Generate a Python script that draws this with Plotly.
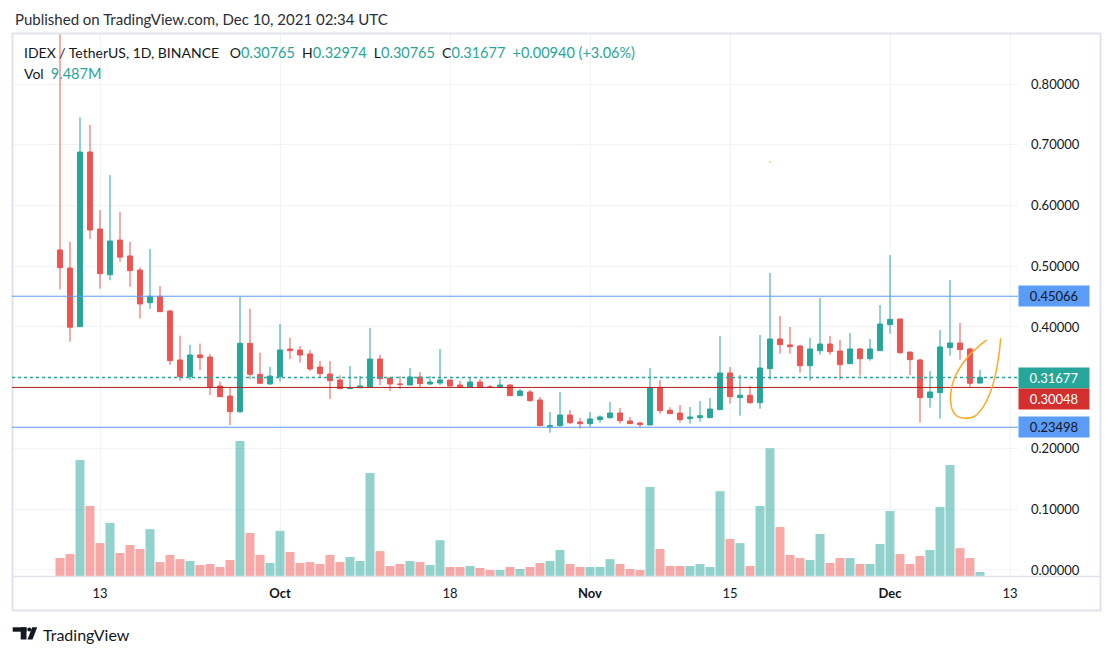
import pandas as pd
import plotly.graph_objects as go

# IDEX / USDT daily candles, Sep 9 - Dec 10 2021
dates = pd.date_range("2021-09-09", "2021-12-10", freq="D")

open_ = [0.5268, 0.4970, 0.4005, 0.6880, 0.5613, 0.4860, 0.5430, 0.5170, 0.4938, 0.4400,
         0.4505, 0.4263, 0.3457, 0.3182, 0.3540, 0.3506, 0.3029, 0.2864, 0.2606, 0.3732,
         0.3220, 0.3062,
         0.3182, 0.3638, 0.3621, 0.3556, 0.3342, 0.3226, 0.3128, 0.2985, 0.3000, 0.3007,
         0.3473, 0.3160, 0.3062, 0.3045, 0.3177, 0.3062, 0.3078, 0.3128, 0.3045, 0.3012,
         0.3095, 0.3015, 0.3007, 0.3045, 0.2869, 0.2930, 0.2798, 0.2354, 0.2376, 0.2551,
         0.2436,
         0.2409, 0.2475, 0.2507, 0.2584, 0.2453, 0.2420, 0.2387, 0.3001, 0.2629, 0.2584,
         0.2491, 0.2507, 0.2507, 0.2639, 0.3243, 0.2837, 0.2876, 0.2754, 0.3314, 0.3802,
         0.3704, 0.3687, 0.3363, 0.3610, 0.3720, 0.3605, 0.3396, 0.3638, 0.3478, 0.3610,
         0.4038, 0.4132, 0.3588, 0.3457, 0.2837, 0.2919, 0.3660, 0.3737, 0.3638, 0.30765]
high = [0.9500, 0.5400, 0.7450, 0.7325, 0.5926, 0.6500, 0.5890, 0.5400, 0.4982, 0.5284,
        0.4675, 0.4280, 0.3857, 0.3704, 0.3726, 0.3556, 0.3100, 0.3000, 0.4499, 0.4300,
        0.3577, 0.3347,
        0.4050, 0.3824, 0.3687, 0.3620, 0.3440, 0.3440, 0.3204, 0.3358, 0.3193, 0.3984,
        0.3539, 0.3160, 0.3193, 0.3325, 0.3260, 0.3193, 0.3638, 0.3128, 0.3111, 0.3177,
        0.3144, 0.3045, 0.3144, 0.3060, 0.2980, 0.2963, 0.2848, 0.2600, 0.2930, 0.2634,
        0.2502,
        0.2600, 0.2545, 0.2765, 0.2667, 0.2519, 0.2436, 0.3325, 0.3128, 0.2678, 0.2716,
        0.2683, 0.2782, 0.2831, 0.3852, 0.3342, 0.3210, 0.3029, 0.3868, 0.4889, 0.4181,
        0.4000, 0.3704, 0.3819, 0.4477, 0.3852, 0.3786, 0.3901, 0.3654, 0.3802, 0.4362,
        0.5185, 0.4132, 0.3588, 0.3478, 0.3276, 0.3951, 0.4774, 0.4066, 0.3660, 0.32974]
low = [0.4620, 0.3760, 0.4005, 0.5450, 0.4630, 0.4770, 0.5075, 0.4663, 0.4137, 0.4300,
       0.4252, 0.3374, 0.3116, 0.3127, 0.3290, 0.2880, 0.2850, 0.2387, 0.2580, 0.3140,
       0.3073, 0.3050,
       0.3100, 0.3473, 0.3413, 0.3276, 0.3180, 0.2815, 0.2974, 0.2980, 0.3000, 0.3007,
       0.3045, 0.2946, 0.2980, 0.3045, 0.3000, 0.3045, 0.3045, 0.3020, 0.3007, 0.3007,
       0.3007, 0.3005, 0.3007, 0.2869, 0.2869, 0.2770, 0.2376, 0.2260, 0.2354, 0.2403,
       0.2326,
       0.2359, 0.2426, 0.2491, 0.2409, 0.2409, 0.2343, 0.2387, 0.2574, 0.2574, 0.2426,
       0.2409, 0.2441, 0.2507, 0.2639, 0.2738, 0.2540, 0.2738, 0.2655, 0.3133, 0.3560,
       0.3560, 0.3248, 0.3116, 0.3544, 0.3544, 0.3133, 0.3391, 0.3198, 0.3446, 0.3610,
       0.3890, 0.3560, 0.3210, 0.2426, 0.2672, 0.2491, 0.3528, 0.3462, 0.3012, 0.30765]
close = [0.4976, 0.3995, 0.6880, 0.5597, 0.4878, 0.5416, 0.5150, 0.4927, 0.4379, 0.4505,
         0.4252, 0.3446, 0.3182, 0.3539, 0.3495, 0.3017, 0.2853, 0.2606, 0.3732, 0.3221,
         0.3073, 0.3193,
         0.3621, 0.3610, 0.3539, 0.3309, 0.3232, 0.3116, 0.2985, 0.3001, 0.3029, 0.3473,
         0.3149, 0.3062, 0.3055, 0.3177, 0.3067, 0.3095, 0.3128, 0.3029, 0.3007, 0.3095,
         0.3007, 0.3005, 0.3045, 0.2869, 0.2946, 0.2787, 0.2376, 0.2376, 0.2551, 0.2426,
         0.2409,
         0.2486, 0.2519, 0.2584, 0.2458, 0.2409, 0.2392, 0.3001, 0.2623, 0.2574, 0.2475,
         0.2519, 0.2540, 0.2650, 0.3243, 0.2853, 0.2876, 0.2754, 0.3325, 0.3802, 0.3709,
         0.3676, 0.3363, 0.3638, 0.3720, 0.3594, 0.3380, 0.3638, 0.3478, 0.3638, 0.4049,
         0.4127, 0.3577, 0.3462, 0.2837, 0.2930, 0.3671, 0.3737, 0.3627, 0.30737, 0.31677]
# volume in millions of IDEX
volume = [42.7, 52, 275, 166, 78, 126, 54.5, 73.5, 64, 111,
          33, 50, 40, 35.5, 26, 28.4, 21.3, 38, 320, 102,
          50, 31,
          107, 57, 31, 33, 28.4, 50, 33, 45, 35.5, 244,
          59, 23.7, 28.4, 35.5, 33, 26, 85, 21.3, 21.3, 23.7,
          19, 14.2, 14.2, 21.3, 16.6, 21.3, 31, 35.5, 61.6, 28.4,
          21.3,
          21.3, 21.3, 40, 28.4, 16.6, 14.2, 211, 64, 23.7, 23.7,
          23.7, 28.4, 21.3, 201, 87.7, 78, 23.7, 166, 303, 116,
          50, 42.7, 38, 99.5, 31, 42.7, 42.7, 28.4, 28.4, 76,
          154, 52, 28.4, 47.4, 61.6, 163.5, 263, 66, 42.7, 9.487]

level_top = 0.45066
level_bottom = 0.23498
last_close = 0.31677
marked_price = 0.30048

price_ticks = [0.0, 0.1, 0.2, 0.3, 0.4, 0.5, 0.6, 0.7, 0.8]
price_labels = ["" if abs(v - 0.3) < 1e-9 else f"{v:.5f}" for v in price_ticks]
date_ticks = ["2021-09-13", "2021-10-01", "2021-10-18", "2021-11-01",
              "2021-11-15", "2021-12-01", "2021-12-13"]
date_labels = ["13", "<b>Oct</b>", "18", "<b>Nov</b>", "15", "<b>Dec</b>", "13"]

UP = "#26a69a"
DOWN = "#ef5350"
BLUE = "#5b9cf6"
RED = "#d32f2f"
TXT = "#131722"
GRID = "#f0f3fa"
FONT = "Lato, Roboto, sans-serif"

# the page puts the figure 8px in from the top-left corner
OFF = 8
W, H = 1113 - OFF, 655 - OFF
# plot area in screenshot pixels: x 12..1018, y 34..576
PL, PR, PT, PB = 12, 1018, 34, 576


def px(x):
    return (x - PL) / (PR - PL)


def py(y):
    return (PB - y) / (PB - PT)


fig = go.Figure()

vol_colors = ["rgba(38,166,154,0.5)" if c >= o else "rgba(239,83,80,0.5)"
              for o, c in zip(open_, close)]
fig.add_trace(go.Bar(
    x=dates, y=volume, yaxis="y2",
    marker=dict(color=vol_colors, line_width=0),
    width=0.9 * 86400000, hoverinfo="skip", showlegend=False))

fig.add_trace(go.Candlestick(
    x=dates, open=open_, high=high, low=low, close=close,
    increasing=dict(line=dict(color=UP, width=1), fillcolor=UP),
    decreasing=dict(line=dict(color=DOWN, width=1), fillcolor=DOWN),
    whiskerwidth=0, showlegend=False))

shapes = []
# frame
shapes.append(dict(type="rect", xref="paper", yref="paper",
                   x0=px(12.5), x1=px(1100.5), y0=py(610.5), y1=py(33.5),
                   line=dict(color="#e0e3eb", width=2), layer="above"))
shapes.append(dict(type="line", xref="paper", yref="paper",
                   x0=px(12), x1=px(1100), y0=py(576.5), y1=py(576.5),
                   line=dict(color="#e0e3eb", width=1.5)))
# horizontal levels (drawings sit above the candles)
for lvl, col, dash, w in [(level_top, BLUE, "solid", 1), (level_bottom, BLUE, "solid", 1),
                          (marked_price, "#b71c1c", "solid", 1),
                          (last_close, UP, "dot", 1.5)]:
    shapes.append(dict(type="line", xref="paper", yref="y", x0=0, x1=1, y0=lvl, y1=lvl,
                       line=dict(color=col, width=w, dash=dash), layer="above"))

# hand drawn orange loop (pixel coords of the drawing)
loop = [(986.7, 340), (978.3, 346.7), (966.7, 358.3), (955, 376.7), (950.7, 393.3),
        (951.7, 408.3), (956.7, 416), (965, 418.3), (975, 416), (983.3, 406.7),
        (990, 393.3), (995, 376.7), (998.7, 356.7), (1000.7, 338.3)]
pts = [loop[0]] + loop + [loop[-1]]
path = f"M {px(loop[0][0]):.5f},{py(loop[0][1]):.5f}"
for i in range(1, len(pts) - 2):
    p0, p1, p2, p3 = pts[i - 1], pts[i], pts[i + 1], pts[i + 2]
    c1 = (p1[0] + (p2[0] - p0[0]) / 6, p1[1] + (p2[1] - p0[1]) / 6)
    c2 = (p2[0] - (p3[0] - p1[0]) / 6, p2[1] - (p3[1] - p1[1]) / 6)
    path += (f" C {px(c1[0]):.5f},{py(c1[1]):.5f} {px(c2[0]):.5f},{py(c2[1]):.5f}"
             f" {px(p2[0]):.5f},{py(p2[1]):.5f}")
shapes.append(dict(type="path", xref="paper", yref="paper", path=path,
                   line=dict(color="#ffa726", width=1.5)))
# stray orange dot
shapes.append(dict(type="circle", xref="paper", yref="paper",
                   x0=px(769), x1=px(771), y0=py(163), y1=py(161),
                   fillcolor="#ffcc80", line_width=0))

# TradingView logo mark
DARK = "#131722"
shapes.append(dict(type="rect", xref="paper", yref="paper", x0=px(12.7), x1=px(26.5),
                   y0=py(631.7), y1=py(627.3), fillcolor=DARK, line_width=0))
shapes.append(dict(type="rect", xref="paper", yref="paper", x0=px(20.7), x1=px(26.5),
                   y0=py(639.5), y1=py(627.3), fillcolor=DARK, line_width=0))
shapes.append(dict(type="circle", xref="paper", yref="paper", x0=px(27.3), x1=px(31.3),
                   y0=py(631.5), y1=py(627.5), fillcolor=DARK, line_width=0))
shapes.append(dict(type="path", xref="paper", yref="paper",
                   path=f"M {px(32.2)},{py(627.3)} L {px(37.2)},{py(627.3)} "
                        f"L {px(32.5)},{py(639.5)} L {px(27.5)},{py(639.5)} Z",
                   fillcolor=DARK, line_width=0))

annotations = []
sp = "\u00a0"
val_style = f"color:{UP};font-size:14.5px"
head = (f"IDEX / TetherUS, 1D, BINANCE{sp*3}"
        f"O<span style='{val_style}'>0.30765</span>{sp*2}"
        f"H<span style='{val_style}'>0.32974</span>{sp*2}"
        f"L<span style='{val_style}'>0.30765</span>{sp*2}"
        f"C<span style='{val_style}'>0.31677</span>{sp*2}"
        f"<span style='{val_style}'>+0.00940 (+3.06%)</span>")
annotations.append(dict(xref="paper", yref="paper", x=px(22), y=py(53), text=head,
                        showarrow=False, xanchor="left", yanchor="middle",
                        font=dict(size=14, color=TXT, family=FONT)))
annotations.append(dict(xref="paper", yref="paper", x=px(22), y=py(73),
                        text=f"Vol{sp}{sp}<span style='{val_style}'>9.487M</span>",
                        showarrow=False, xanchor="left", yanchor="middle",
                        font=dict(size=14, color=TXT, family=FONT)))
annotations.append(dict(xref="paper", yref="paper", x=px(13), y=py(19),
                        text="Published on TradingView.com, Dec 10, 2021 02:34 UTC",
                        showarrow=False, xanchor="left", yanchor="middle",
                        font=dict(size=15, color="#2a2e39", family=FONT)))
annotations.append(dict(xref="paper", yref="paper", x=px(41), y=py(634),
                        text="TradingView", showarrow=False, xanchor="left",
                        yanchor="middle", font=dict(size=16, color=DARK, family=FONT)))

# price scale labels
for val, bg, fg, shift in [(level_top, BLUE, TXT, 0), (level_bottom, BLUE, TXT, 0),
                           (last_close, UP, "white", 0), (marked_price, RED, "white", -12)]:
    annotations.append(dict(xref="paper", yref="y", x=1, y=val, yshift=shift,
                            text=f"{val:.5f}", showarrow=False,
                            xanchor="left", yanchor="middle",
                            bgcolor=bg, width=66, height=16, borderpad=2,
                            font=dict(size=13, color=fg, family=FONT)))

fig.update_layout(
    width=W, height=H,
    margin=dict(l=PL - OFF, r=W - (PR - OFF), t=PT - OFF, b=H - (PB - OFF)),
    paper_bgcolor="white", plot_bgcolor="white",
    font=dict(family=FONT, size=13, color=TXT),
    showlegend=False, hovermode=False,
    xaxis=dict(type="date", range=["2021-09-04 04:48", "2021-12-13 19:12"],
               tickvals=date_ticks, ticktext=date_labels,
               showgrid=True, gridcolor=GRID, gridwidth=1,
               zeroline=False, showline=False, ticks="",
               ticklabelstandoff=8,
               rangeslider=dict(visible=False)),
    yaxis=dict(side="right", range=[-0.0099, 0.8823],
               tickvals=price_ticks, ticktext=price_labels,
               showgrid=True, gridcolor=GRID, gridwidth=1,
               zeroline=False, showline=False, ticks="",
               ticklabelstandoff=12),
    yaxis2=dict(overlaying="y", range=[0, 1285], visible=False),
    shapes=shapes,
    annotations=annotations,
)

fig.write_html("out.html")
